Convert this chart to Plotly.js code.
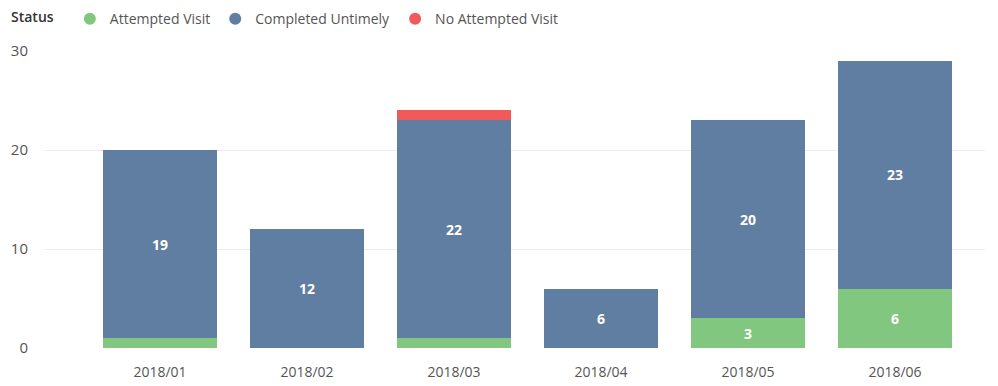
<!DOCTYPE html>
<html>
<head>
<meta charset="utf-8">
<script src="https://cdn.plot.ly/plotly-3.0.1.min.js"></script>
<style>html,body{margin:0;padding:0;background:#fff;}#chart{width:998px;height:386px;}</style>
</head>
<body>
<div id="chart"></div>
<script>
const months = ["2018/01", "2018/02", "2018/03", "2018/04", "2018/05", "2018/06"];
const attemptedVisit = [1, 0, 1, 0, 3, 6];
const completedUntimely = [19, 12, 22, 6, 20, 23];
const noAttemptedVisit = [0, 0, 1, 0, 0, 0];
const seriesNames = ["Attempted Visit", "Completed Untimely", "No Attempted Visit"];
const legendTitle = "Status";
const yTicks = [0, 10, 20, 30];

const colors = ["#82C77F", "#5F7EA2", "#EF5B5B"];
const seriesData = [attemptedVisit, completedUntimely, noAttemptedVisit];

const traces = [];
seriesData.forEach((vals, i) => {
  traces.push({
    type: "bar",
    name: seriesNames[i],
    x: months,
    y: vals,
    marker: {color: colors[i]},
    width: 0.77,
    text: vals.map(v => v >= 3 ? String(v) : ""),
    textposition: "inside",
    insidetextanchor: "middle",
    textangle: 0,
    textfont: {color: "#ffffff", size: 14, family: "Open Sans", weight: "bold"},
    showlegend: false,
    hoverinfo: "x+y+name"
  });
});
seriesNames.forEach((n, i) => {
  traces.push({
    type: "scatter",
    mode: "markers",
    name: n,
    x: [null],
    y: [null],
    marker: {color: colors[i], symbol: "circle", size: 12},
    showlegend: true
  });
});

const layout = {
  width: 998,
  height: 386,
  margin: {l: 45, r: 13, t: 51, b: 38},
  paper_bgcolor: "#ffffff",
  plot_bgcolor: "#ffffff",
  barmode: "stack",
  font: {family: "Open Sans", color: "#666"},
  showlegend: true,
  legend: {
    orientation: "h",
    xref: "container", yref: "container",
    x: 0.070, y: 0.992, xanchor: "left", yanchor: "top",
    font: {size: 14, color: "#555"},
    itemwidth: 30,
    traceorder: "normal"
  },
  annotations: [{
    text: legendTitle,
    xref: "paper", yref: "paper",
    x: -0.038, y: 1.115,
    xanchor: "left", yanchor: "middle",
    showarrow: false,
    font: {size: 14, color: "#333", family: "Open Sans", weight: 600}
  }],
  xaxis: {
    type: "category",
    range: [-0.782, 5.612],
    showgrid: false,
    zeroline: false,
    showline: false,
    tickfont: {size: 14, color: "#555"},
    ticklabelstandoff: 14,
    ticks: "",
    fixedrange: true
  },
  yaxis: {
    range: [0, 30],
    tickvals: yTicks,
    ticktext: yTicks.map(String),
    showgrid: true,
    gridcolor: "#ececec",
    gridwidth: 1,
    zeroline: false,
    showline: false,
    tickfont: {size: 15, color: "#555"},
    ticklabelstandoff: 16,
    ticks: "",
    fixedrange: true
  }
};

Plotly.newPlot("chart", traces, layout, {displayModeBar: false, staticPlot: true});
</script>
</body>
</html>
